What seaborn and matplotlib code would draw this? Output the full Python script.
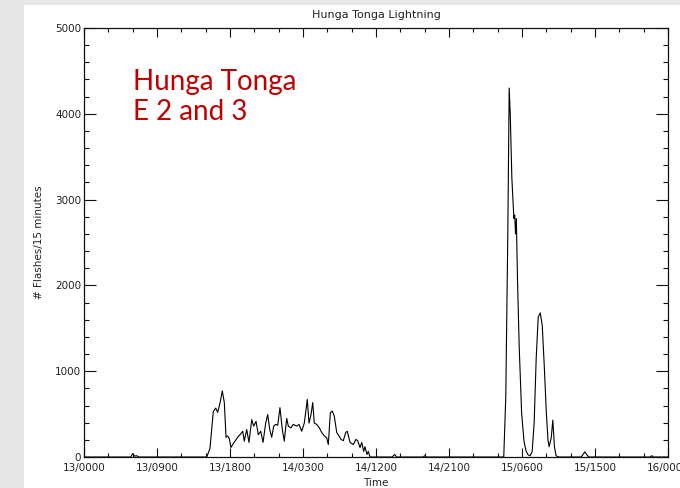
import matplotlib
matplotlib.use("Agg")
import matplotlib.pyplot as plt
from matplotlib.patches import Rectangle
from matplotlib.ticker import MultipleLocator, FixedLocator
import numpy as np
import pandas as pd
import seaborn as sns

# Hours since 13 Jan 00:00 UTC and flash counts per 15 minutes
hours = [
    0.0, 5.75, 6.0, 6.25, 6.5, 6.75,
    15.13, 15.53, 15.94, 16.24, 16.48, 16.77, 17.05, 17.30, 17.51, 17.72,
    17.91, 18.12, 18.33, 18.62, 18.95, 19.23, 19.57, 19.76, 20.06, 20.34,
    20.68, 20.92, 21.21, 21.49, 21.79, 22.07, 22.40, 22.65, 22.90, 23.14,
    23.39, 23.63, 23.88, 24.16, 24.45, 24.69, 24.99, 25.19, 25.52, 25.80,
    26.22, 26.51, 26.84, 27.16, 27.53, 27.74, 27.99, 28.20, 28.39, 28.69,
    29.01, 29.31, 29.63, 29.92, 30.12, 30.37, 30.61, 30.86, 31.16, 31.44,
    31.69, 31.97, 32.26, 32.46, 32.80, 33.20, 33.53, 33.74, 34.03, 34.24,
    34.48, 34.64, 34.89, 35.05, 35.26,
    38.0, 38.3, 38.55, 41.8, 42.0, 42.2,
    51.75, 52.0, 52.25, 52.42, 52.55, 52.75, 53.0, 53.1, 53.2, 53.3, 53.45,
    53.65, 53.95, 54.25, 54.5, 54.75, 55.0, 55.25, 55.5, 55.75, 56.0, 56.25,
    56.5, 56.75, 57.0, 57.2, 57.35, 57.6, 57.8, 58.0, 58.2, 58.5,
    61.3, 61.75, 62.2, 69.8, 70.0, 70.2, 72.0,
]
flashes = [
    0, 0, 40, 10, 15, 0,
    0, 100, 530, 570, 520, 630, 770, 635, 230, 245,
    215, 110, 145, 185, 230, 260, 300, 185, 320, 170,
    435, 360, 415, 260, 300, 170, 395, 495, 320, 230,
    360, 380, 370, 575, 320, 185, 450, 360, 340, 380,
    360, 380, 300, 395, 670, 395, 495, 635, 395, 380,
    340, 285, 245, 225, 145, 515, 535, 475, 285, 245,
    205, 190, 285, 300, 170, 145, 205, 190, 110, 170,
    65, 120, 30, 65, 0,
    0, 30, 0, 0, 15, 0,
    0, 700, 2600, 4300, 4000, 3250, 2780, 2820, 2600, 2780, 2050,
    1300, 520, 180, 70, 25, 15, 60, 400, 1150, 1630, 1680,
    1530, 1050, 520, 200, 120, 220, 430, 120, 15, 0,
    0, 60, 0, 0, 15, 0, 0,
]

x_major = [0, 9, 18, 27, 36, 45, 54, 63, 72]
x_labels = ["13/0000", "13/0900", "13/1800", "14/0300", "14/1200",
            "14/2100", "15/0600", "15/1500", "16/0000"]
y_major = [0, 1000, 2000, 3000, 4000, 5000]

df = pd.DataFrame({"hours": hours, "flashes": flashes})

sns.set_style("white")
plt.rcParams["font.family"] = ["DejaVu Sans"]

fig = plt.figure(figsize=(6.8, 4.88), dpi=100, facecolor="#e6e6e6")
# white page panel behind the plot
fig.patches.append(Rectangle((24 / 680, 0), 1, 1 - 5 / 488, transform=fig.transFigure,
                             facecolor="white", edgecolor="none", zorder=-10))
ax = fig.add_axes([84 / 680, 1 - 457 / 488, (668 - 84) / 680, (457 - 28) / 488])
ax.set_zorder(5)
ax.set_facecolor("white")

sns.lineplot(data=df, x="hours", y="flashes", color="black", linewidth=0.8, ax=ax)

ax.set_xlim(0, 72)
ax.set_ylim(0, 5000)
ax.xaxis.set_major_locator(FixedLocator(x_major))
ax.set_xticklabels(x_labels)
ax.xaxis.set_minor_locator(MultipleLocator(3))
ax.yaxis.set_major_locator(FixedLocator(y_major))
ax.set_yticklabels([str(v) for v in y_major])
ax.yaxis.set_minor_locator(MultipleLocator(200))

for s in ax.spines.values():
    s.set_visible(True)
    s.set_color("#111111")
    s.set_linewidth(0.9)

txt_col = "#222222"
ax.tick_params(axis="x", which="major", direction="in", length=6.2, width=0.8,
               top=True, bottom=True, labelsize=7.5, pad=4, colors="#111111",
               labelcolor=txt_col)
ax.tick_params(axis="x", which="minor", direction="in", length=3.1, width=0.8,
               top=True, bottom=True, colors="#111111")
ax.tick_params(axis="y", which="major", direction="in", length=8.4, width=0.8,
               left=True, right=True, labelsize=7.5, pad=2, colors="#111111",
               labelcolor=txt_col)
ax.tick_params(axis="y", which="minor", direction="in", length=3.5, width=0.8,
               left=True, right=True, colors="#111111")

ax.set_title("Hunga Tonga Lightning", fontsize=8, color=txt_col, pad=7)
ax.set_xlabel("Time", fontsize=7.5, color=txt_col, labelpad=4)
ax.set_ylabel("# Flashes/15 minutes", fontsize=7.5, color=txt_col, labelpad=8)

ax.text(0.084, 0.905, "Hunga Tonga\nE 2 and 3", transform=ax.transAxes,
        fontsize=20, family=["Lato", "DejaVu Sans"], color="#c00000",
        ha="left", va="top", linespacing=1.2)

fig.savefig("out.png", dpi=100, facecolor=fig.get_facecolor())
